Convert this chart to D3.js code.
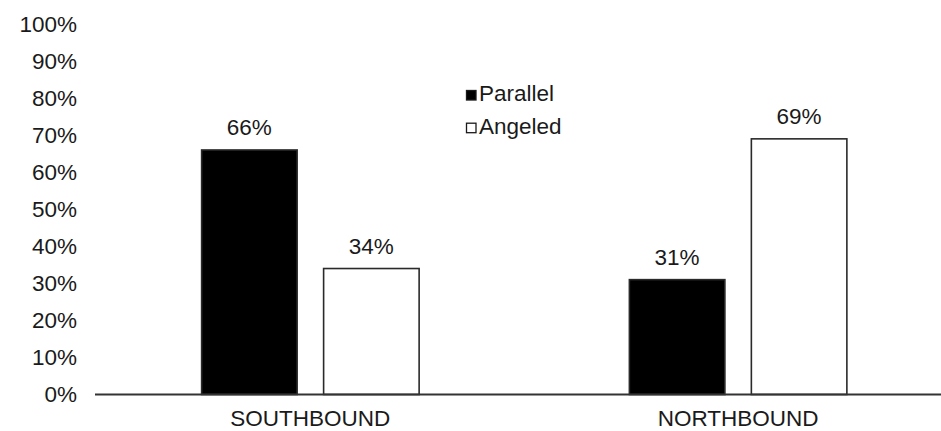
<!DOCTYPE html>
<html>
<head>
<meta charset="utf-8">
<script src="https://cdn.jsdelivr.net/npm/d3@7"></script>
<style>
  html, body { margin: 0; padding: 0; background: #fff; }
  svg { display: block; }
  text { font-family: "Liberation Sans", Arial, sans-serif; fill: #1a1a1a; }
</style>
</head>
<body>
<svg id="chart" width="941" height="431"></svg>
<script>
// Share of parking manoeuvres by direction
const categories = ["SOUTHBOUND", "NORTHBOUND"];
const seriesNames = ["Parallel", "Angeled"];
const parallelValues = [0.66, 0.31];
const angeledValues = [0.34, 0.69];
const yTicks = [0, 0.1, 0.2, 0.3, 0.4, 0.5, 0.6, 0.7, 0.8, 0.9, 1.0];

const seriesValues = [parallelValues, angeledValues];
const fills = ["#000000", "#ffffff"];

const svg = d3.select("#chart");
const fontSize = 22.5;

const y = d3.scaleLinear().domain([0, 1]).range([394.5, 24]);
const x0 = d3.scaleBand().domain(categories).range([96.5, 952]).padding(0);
const x1 = d3.scaleBand().domain(seriesNames).range([0, 217.5]).paddingInner(0.217).paddingOuter(0);
const groupOffset = (x0.bandwidth() - 217.5) / 2;

// y tick labels (no axis line or gridlines)
svg.append("g").selectAll("text")
  .data(yTicks)
  .join("text")
  .attr("x", 77)
  .attr("y", d => y(d))
  .attr("dy", "0.35em")
  .attr("text-anchor", "end")
  .style("font-size", fontSize + "px")
  .text(d => d3.format(".0%")(d));

// bars
const groups = svg.append("g").selectAll("g")
  .data(categories)
  .join("g")
  .attr("transform", d => `translate(${x0(d) + groupOffset},0)`);

groups.selectAll("rect")
  .data((c, ci) => seriesNames.map((s, si) => ({ s, v: seriesValues[si][ci], si })))
  .join("rect")
  .attr("x", d => x1(d.s))
  .attr("y", d => y(d.v))
  .attr("width", x1.bandwidth())
  .attr("height", d => y(0) - y(d.v))
  .attr("fill", d => fills[d.si])
  .attr("stroke", "#2a2a2a")
  .attr("stroke-width", 1.6);

// value labels above bars
groups.selectAll("text.val")
  .data((c, ci) => seriesNames.map((s, si) => ({ s, v: seriesValues[si][ci] })))
  .join("text")
  .attr("class", "val")
  .attr("x", d => x1(d.s) + x1.bandwidth() / 2)
  .attr("y", d => y(d.v) - 14.5)
  .attr("text-anchor", "middle")
  .style("font-size", fontSize + "px")
  .text(d => d3.format(".0%")(d.v));

// category axis line
svg.append("line")
  .attr("x1", 95).attr("x2", 941)
  .attr("y1", y(0)).attr("y2", y(0))
  .attr("stroke", "#333")
  .attr("stroke-width", 2);

// category labels
svg.append("g").selectAll("text")
  .data(categories)
  .join("text")
  .attr("x", d => x0(d) + x0.bandwidth() / 2)
  .attr("y", 425.5)
  .attr("text-anchor", "middle")
  .style("font-size", fontSize + "px")
  .text(d => d);

// legend
const legend = svg.append("g").attr("transform", "translate(466,90)");
const items = legend.selectAll("g")
  .data(seriesNames)
  .join("g")
  .attr("transform", (d, i) => `translate(0,${i * 32.7})`);
items.append("rect")
  .attr("x", 0.5).attr("y", 0.5)
  .attr("width", 9.5).attr("height", 9.5)
  .attr("fill", (d, i) => fills[i])
  .attr("stroke", "#1a1a1a")
  .attr("stroke-width", 1.3);
items.append("text")
  .attr("x", 13)
  .attr("y", 11)
  .style("font-size", fontSize + "px")
  .text(d => d);
</script>
</body>
</html>
